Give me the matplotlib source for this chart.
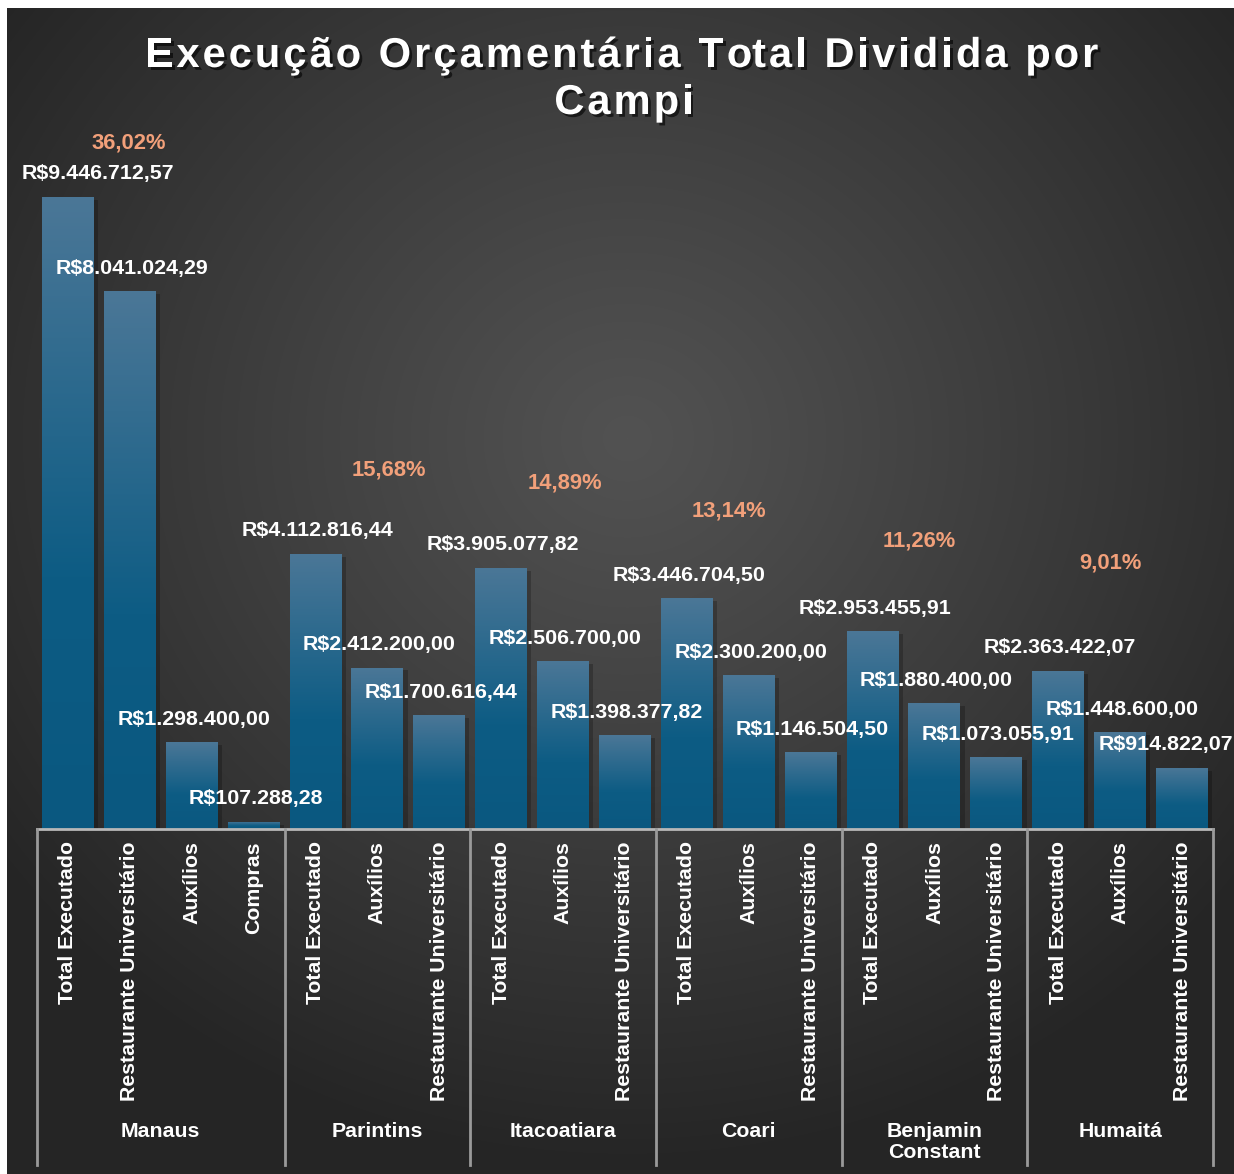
import numpy as np
import matplotlib
matplotlib.use("Agg")
import matplotlib.pyplot as plt
import matplotlib.patheffects as pe
from matplotlib.colors import LinearSegmentedColormap
from matplotlib.transforms import blended_transform_factory

plt.rcParams['font.family'] = ['Liberation Sans', 'DejaVu Sans']

# data
campi = ["Manaus", "Parintins", "Itacoatiara", "Coari", "Benjamin\nConstant", "Humaitá"]
categorias = [
    ["Total Executado", "Restaurante Universitário", "Auxílios", "Compras"],
    ["Total Executado", "Auxílios", "Restaurante Universitário"],
    ["Total Executado", "Auxílios", "Restaurante Universitário"],
    ["Total Executado", "Auxílios", "Restaurante Universitário"],
    ["Total Executado", "Auxílios", "Restaurante Universitário"],
    ["Total Executado", "Auxílios", "Restaurante Universitário"],
]
valores = [
    [9446712.57, 8041024.29, 1298400.00, 107288.28],
    [4112816.44, 2412200.00, 1700616.44],
    [3905077.82, 2506700.00, 1398377.82],
    [3446704.50, 2300200.00, 1146504.50],
    [2953455.91, 1880400.00, 1073055.91],
    [2363422.07, 1448600.00, 914822.07],
]
percentuais = [36.02, 15.68, 14.89, 13.14, 11.26, 9.01]

W, H = 1234, 1174
fig = plt.figure(figsize=(W / 100, H / 100), dpi=100, facecolor="white")
renderer = fig.canvas.get_renderer()


def fx(px):
    return px / W


def fy(py):
    return 1 - py / H


# background with radial light
bg = fig.add_axes([fx(7), 0, 1 - fx(7), fy(8)], zorder=0)
yy, xx = np.mgrid[0:1166, 0:1227]
r = np.sqrt(((xx - 620) / 780.0) ** 2 + ((yy - 430) / 730.0) ** 2)
r = np.clip(r, 0, 1)
shade = (82 + (37 - 82) * r ** 1.1) / 255.0
bg.imshow(np.dstack([shade, shade, shade]), aspect="auto", interpolation="bilinear")
bg.set_axis_off()

# main axes
x0, x1 = 37, 1213
y_base, y_top = 829, 130
ax = fig.add_axes([fx(x0), fy(y_base), fx(x1 - x0), (y_base - y_top) / H], zorder=2)
ax.set_facecolor("none")
px_per_unit = 632 / 9446712.57
ymax = (y_base - y_top) / px_per_unit

labels, vals = [], []
for cats, vs in zip(categorias, valores):
    labels += cats
    vals += vs
xs = np.arange(len(vals))

bar_w = 0.84
bars = ax.bar(xs, vals, width=bar_w, color="#0b5a80", zorder=2)
for b in bars:
    b.set_path_effects([pe.SimplePatchShadow(offset=(3, -2), shadow_rgbFace="black", alpha=0.22),
                        pe.Normal()])

cmap = LinearSegmentedColormap.from_list(
    "barra", [(0, "#4b7797"), (0.6, "#0d5c84"), (1, "#0a5880")])
grad = np.linspace(0, 1, 256).reshape(-1, 1)
for b in bars:
    im = ax.imshow(grad, cmap=cmap, aspect="auto", interpolation="bicubic",
                   extent=[b.get_x(), b.get_x() + b.get_width(), 0, b.get_height()],
                   zorder=3)
    im.set_clip_path(b)

ax.set_xlim(-0.5, len(vals) - 0.5)
ax.set_ylim(0, ymax)
ax.set_yticks([])
for s in ax.spines.values():
    s.set_visible(False)


def brl(v):
    s = f"{v:,.2f}"
    return "R$" + s.replace(",", "X").replace(".", ",").replace("X", ".")


for i, (xv, v) in enumerate(zip(xs, vals)):
    t = ax.annotate(brl(v), (xv, v), xytext=(2, 23), textcoords="offset pixels",
                    ha="center", va="center", color="white", fontsize=15.4,
                    fontweight="bold", zorder=5)
    # keep label inside the chart area, as the spreadsheet does
    bb = t.get_window_extent(renderer)
    if bb.x0 < 22:
        t.xyann = (2 + 22 - bb.x0, 23)
    elif bb.x1 > W - 1:
        t.xyann = (2 - (bb.x1 - (W - 1)), 23)

# percentages on a secondary scale
ax2 = ax.twinx()
ax2.set_ylim(-6.66, 36.84)
ax2.set_yticks([])
for s in ax2.spines.values():
    s.set_visible(False)
inicio = np.cumsum([0] + [len(v) for v in valores])[:-1]
pct_dx = [-0.01, 0.19, 0.03, -0.32, -0.25, -0.15]
pct_dy = [0, 0, 0, 0, 0, 14]
for g, p in enumerate(percentuais):
    ax2.annotate(f"{p:.2f}%".replace(".", ","), (inicio[g] + 1 + pct_dx[g], p),
                 xytext=(0, pct_dy[g]), textcoords="offset pixels",
                 ha="center", va="center", color="#f2a07a", fontsize=15.8,
                 fontweight="bold")

# category axis
ax.set_xticks(xs)
ax.set_xticklabels(labels, rotation=90, color="white", fontsize=15.3, fontweight="bold",
                   va="top", ha="center")
ax.tick_params(axis="x", length=0, pad=9)

trans = blended_transform_factory(ax.transData, ax.transAxes)
ax.plot([-0.5, len(vals) - 0.5], [0, 0], transform=trans, color="#b8b8b8", lw=2,
        clip_on=False, zorder=6)
bottom = -(1165 - y_base) / (y_base - y_top)
limites = list(np.cumsum([0] + [len(v) for v in valores]) - 0.5)
for lb in limites:
    ax.plot([lb, lb], [0, bottom], transform=trans, color="#9a9a9a", lw=2,
            clip_on=False, zorder=6)

ytop_grp = -(1122 - y_base) / (y_base - y_top)
for g, nome in enumerate(campi):
    xc = (limites[g] + limites[g + 1]) / 2
    ax.text(xc, ytop_grp, nome, transform=trans, ha="center", va="top",
            color="white", fontsize=15.3, fontweight="bold", linespacing=1.12)

# title with letter spacing
title_kw = dict(fontsize=30, fontweight="bold", color="white")


def largura(s):
    t = fig.text(0, 0, s, **title_kw)
    w = t.get_window_extent(renderer).width
    t.remove()
    return w


def titulo_espacado(s, cx, cy, esp):
    ref = largura("|")
    pos = [largura(s[:i] + "|") - ref if i > 0 else 0 for i in range(len(s))]
    total = largura(s) + esp * (len(s) - 1)
    left = cx - total / 2
    for i, ch in enumerate(s):
        if ch == " ":
            continue
        t = fig.text(fx(left + pos[i] + esp * i), fy(cy), ch, ha="left", va="center",
                     **title_kw)
        t.set_path_effects([pe.withSimplePatchShadow(offset=(2, -2), shadow_rgbFace="black",
                                                     alpha=0.6)])


titulo_espacado("Execução Orçamentária Total Dividida por", 622, 56, 3.0)
titulo_espacado("Campi", 624, 103, 3.0)

fig.savefig("out.png", dpi=100, facecolor=fig.get_facecolor())
